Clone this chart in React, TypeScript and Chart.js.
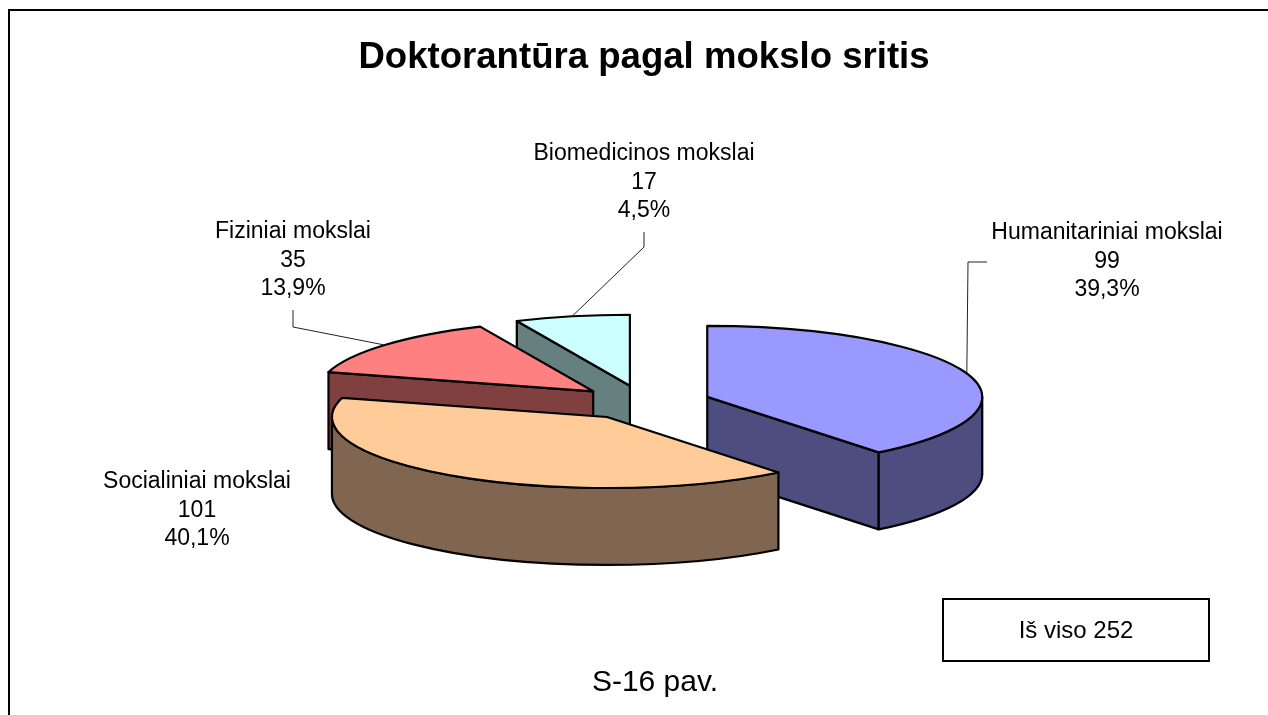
import React, { useEffect, useRef } from 'react';
import { Chart, registerables } from 'chart.js';

Chart.register(...registerables);

// ---- data ----
const TITLE = 'Doktorantūra pagal mokslo sritis';
const CATEGORIES = ['Humanitariniai mokslai', 'Socialiniai mokslai', 'Fiziniai mokslai', 'Biomedicinos mokslai'];
const VALUES = [99, 101, 35, 17];
const PERCENT_LABELS = ['39,3%', '40,1%', '13,9%', '4,5%'];
const TOTAL_LABEL = 'Iš viso 252';
const FIGURE_LABEL = 'S-16 pav.';

// ---- styles / layout ----
const TOP_COLORS = ['#9999FF', '#FFCC99', '#FF8080', '#CCFFFF'];
const SIDE_COLORS = ['#4D4D80', '#806650', '#804040', '#668080'];
const FONT = '"Liberation Sans", Arial, Helvetica, sans-serif';
const TILT = 0.258;
const DEPTH = 77;
const EXPLODE = 67;
const RADIUS = 275;
const LABEL_FONT_SIZE = 23;
const LABEL_LINE = 28.5;
const LABEL_POS = [
  { x: 1107, y: 233 },
  { x: 197, y: 482 },
  { x: 293, y: 232 },
  { x: 644, y: 154 },
];
const LEADERS: (number[] | null)[] = [
  [987, 262, 968, 262],
  null,
  [293, 310, 293, 327],
  [644, 232, 644, 247],
];
const CANVAS_W = 1288;
const CANVAS_H = 760;

type Slice = { i: number; a: number; b: number; mid: number; r: number; cx: number; cy: number };

function getSlices(chart: any): Slice[] {
  const meta = chart.getDatasetMeta(0);
  return meta.data.map((el: any, i: number) => {
    const a = el.startAngle;
    const b = el.endAngle;
    const mid = (a + b) / 2;
    const off = (el.options && el.options.offset) || 0;
    return {
      i,
      a,
      b,
      mid,
      r: el.outerRadius,
      cx: el.x + Math.cos(mid) * off,
      cy: el.y + Math.sin(mid) * off * TILT,
    };
  });
}

const pie3dPlugin = {
  id: 'pie3d',
  beforeDatasetsDraw(chart: any) {
    const ctx: CanvasRenderingContext2D = chart.ctx;
    const slices = getSlices(chart);
    const order = [...slices].sort((u, v) => Math.sin(u.mid) - Math.sin(v.mid));
    ctx.save();
    ctx.lineWidth = 2.2;
    ctx.lineJoin = 'round';
    ctx.strokeStyle = '#000';
    for (const s of order) {
      const { cx, cy, r, a, b } = s;
      const ry = r * TILT;
      const side = SIDE_COLORS[s.i];
      const face = (t: number) => {
        const x = cx + r * Math.cos(t);
        const y = cy + ry * Math.sin(t);
        ctx.beginPath();
        ctx.moveTo(cx, cy);
        ctx.lineTo(x, y);
        ctx.lineTo(x, y + DEPTH);
        ctx.lineTo(cx, cy + DEPTH);
        ctx.closePath();
        ctx.fillStyle = side;
        ctx.fill();
        ctx.stroke();
      };
      if (Math.cos(a) < -1e-6) face(a);
      if (Math.cos(b) > 1e-6) face(b);
      const t1 = Math.max(a, 0);
      const t2 = Math.min(b, Math.PI);
      if (t2 > t1) {
        ctx.beginPath();
        ctx.ellipse(cx, cy, r, ry, 0, t1, t2, false);
        ctx.ellipse(cx, cy + DEPTH, r, ry, 0, t2, t1, true);
        ctx.closePath();
        ctx.fillStyle = side;
        ctx.fill();
        ctx.stroke();
      }
      ctx.beginPath();
      ctx.moveTo(cx, cy);
      ctx.ellipse(cx, cy, r, ry, 0, a, b, false);
      ctx.closePath();
      ctx.fillStyle = TOP_COLORS[s.i];
      ctx.fill();
      ctx.stroke();
    }
    ctx.restore();
    return false;
  },
  afterDraw(chart: any) {
    const ctx: CanvasRenderingContext2D = chart.ctx;
    const slices = getSlices(chart);
    ctx.save();
    // leader lines
    ctx.strokeStyle = '#222';
    ctx.lineWidth = 1;
    slices.forEach((s) => {
      const L = LEADERS[s.i];
      if (!L) return;
      const ex = s.cx + s.r * Math.cos(s.mid);
      const ey = s.cy + s.r * TILT * Math.sin(s.mid);
      ctx.beginPath();
      ctx.moveTo(L[0], L[1]);
      ctx.lineTo(L[2], L[3]);
      ctx.lineTo(ex, ey);
      ctx.stroke();
    });
    // labels
    ctx.fillStyle = '#000';
    ctx.textAlign = 'center';
    ctx.textBaseline = 'middle';
    ctx.font = `${LABEL_FONT_SIZE}px ${FONT}`;
    slices.forEach((s) => {
      const p = LABEL_POS[s.i];
      const lines = [CATEGORIES[s.i], String(VALUES[s.i]), PERCENT_LABELS[s.i]];
      lines.forEach((t, j) => ctx.fillText(t, p.x, p.y + j * LABEL_LINE));
    });
    // total box
    ctx.lineWidth = 2;
    ctx.strokeStyle = '#000';
    ctx.strokeRect(943, 599, 266, 62);
    ctx.font = `24px ${FONT}`;
    ctx.fillText(TOTAL_LABEL, 1076, 631);
    // figure caption
    ctx.font = `30px ${FONT}`;
    ctx.fillText(FIGURE_LABEL, 655, 683);
    ctx.restore();
  },
};

export default function App() {
  const ref = useRef<HTMLCanvasElement | null>(null);
  useEffect(() => {
    if (!ref.current) return;
    const titleSize = 36.6;
    const titleMid = 58;
    const titleLine = titleSize * 1.2;
    const padTop = titleMid - titleLine / 2;
    const areaTop = padTop + titleLine;
    const centerY = 402.6;
    const padBottom = CANVAS_H - (2 * centerY - areaTop);
    const chart = new Chart(ref.current, {
      type: 'pie',
      data: {
        labels: CATEGORIES,
        datasets: [
          {
            data: VALUES,
            backgroundColor: TOP_COLORS,
            offset: EXPLODE,
            radius: RADIUS,
            borderWidth: 0,
          } as any,
        ],
      },
      options: {
        animation: false,
        responsive: false,
        events: [],
        layout: { padding: { top: 0, bottom: padBottom, left: 0, right: 0 } },
        plugins: {
          legend: { display: false },
          tooltip: { enabled: false },
          title: {
            display: true,
            text: TITLE,
            color: '#000',
            font: { family: FONT, size: titleSize, weight: 'bold', lineHeight: 1.2 },
            padding: { top: padTop, bottom: 0 },
          },
        },
      } as any,
      plugins: [pie3dPlugin],
    });
    return () => chart.destroy();
  }, []);
  return (
    <div style={{ position: 'fixed', left: 0, top: 0, width: 1268, height: 715, overflow: 'hidden', background: '#fff' }}>
      <div
        style={{
          position: 'absolute',
          left: 8,
          top: 9,
          width: 1400,
          height: 800,
          border: '2px solid #000',
          boxSizing: 'border-box',
        }}
      />
      <canvas
        ref={ref}
        width={CANVAS_W}
        height={CANVAS_H}
        style={{ position: 'absolute', left: 0, top: 0, width: CANVAS_W, height: CANVAS_H, display: 'block' }}
      />
    </div>
  );
}
